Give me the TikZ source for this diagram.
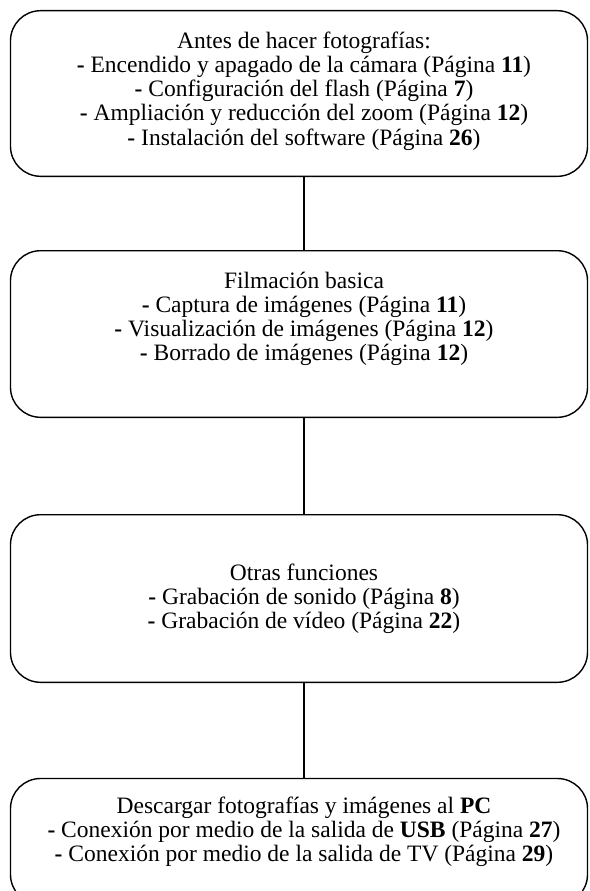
\documentclass[tikz,border=0pt]{standalone}
\usepackage{fontspec}
\setmainfont{Liberation Serif}
\begin{document}
\begin{tikzpicture}[x=1pt,y=-1pt,
  box/.style={draw, line width=1.4pt, rounded corners=30pt, minimum width=577pt, inner sep=0pt},
  txt/.style={align=center, anchor=north, inner sep=0pt, font=\fontsize{23.5}{24.2}\selectfont},
  link/.style={line width=1.4pt}]
\useasboundingbox (0,0) rectangle (589,891);
\clip (0,0) rectangle (589,891);
\coordinate (xc) at (304,0);
\node[box, minimum height=165.6pt] (b1) at (299,93.5) {};
\node[box, minimum height=166.6pt] (b2) at (299,334) {};
\node[box, minimum height=167.6pt] (b3) at (299,598.5) {};
\node[box, minimum height=126pt] (b4) at (299,841.5) {};
\node[txt] (t1) at (304,31) {\rule{0pt}{17pt}Antes de hacer fotografías:\\
  \textbf{-} Encendido y apagado de la cámara (Página \textbf{11})\\
  \textbf{-} Configuración del flash (Página \textbf{7})\\
  \textbf{-} Ampliación y reducción del zoom (Página \textbf{12})\\
  \textbf{-} Instalación del software (Página \textbf{26})};
\node[txt] (t2) at (304,271) {\rule{0pt}{17pt}Filmación basica\\
  \textbf{-} Captura de imágenes (Página \textbf{11})\\
  \textbf{-} Visualización de imágenes (Página \textbf{12})\\
  \textbf{-} Borrado de imágenes (Página \textbf{12})};
\node[txt] (t3) at (304,563) {\rule{0pt}{17pt}Otras funciones\\
  \textbf{-} Grabación de sonido (Página \textbf{8})\\
  \textbf{-} Grabación de vídeo (Página \textbf{22})};
\node[txt] (t4) at (304,796) {\rule{0pt}{17pt}Descargar fotografías y imágenes al \textbf{PC}\\
  \textbf{-} Conexión por medio de la salida de \textbf{USB} (Página \textbf{27})\\
  \textbf{-} Conexión por medio de la salida de TV (Página \textbf{29})};
\draw[link] (b1.south -| xc) -- (b2.north -| xc);
\draw[link] (b2.south -| xc) -- (b3.north -| xc);
\draw[link] (b3.south -| xc) -- (b4.north -| xc);
\end{tikzpicture}
\end{document}
